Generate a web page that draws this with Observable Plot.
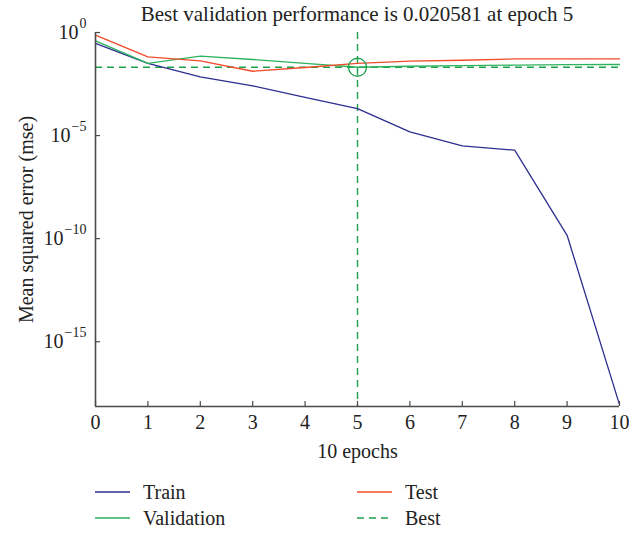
<!DOCTYPE html>
<html><head><meta charset="utf-8">
<script src="https://cdn.jsdelivr.net/npm/d3@7"></script>
<script src="https://cdn.jsdelivr.net/npm/@observablehq/plot@0.6"></script>
<style>
body{margin:0;background:#fff;font-family:"Liberation Serif","Times New Roman","DejaVu Serif",serif;color:#222;}
#title{position:relative;z-index:2;height:26px;line-height:28px;font-size:21px;text-align:center;margin-left:95px;width:524px;white-space:nowrap;}
#chart{position:relative;z-index:1;}
#chart svg{display:block;margin-top:-16px;background:transparent;overflow:visible;}
#legend{position:relative;height:67px;padding-top:13px;font-size:20px;}
.item{position:absolute;height:26px;line-height:26px;display:flex;align-items:center;}
.item svg{margin-right:13px;}
</style></head><body>
<div id="title">Best validation performance is 0.020581 at epoch 5</div>
<div id="chart"></div>
<div id="legend"></div>
<script>
const epochs = [0, 1, 2, 3, 4, 5, 6, 7, 8, 9, 10];
const train      = [2.95e-1, 3.16e-2, 7.1e-3, 2.6e-3, 7.2e-4, 2.04e-4, 1.5e-5, 3.2e-6, 1.95e-6, 1.45e-10, 8.9e-19];
const validation = [3.9e-1, 3.16e-2, 7.1e-2, 4.9e-2, 3.2e-2, 2.0581e-2, 2.3e-2, 2.45e-2, 2.6e-2, 2.75e-2, 2.8e-2];
const test       = [7.4e-1, 6.6e-2, 4.2e-2, 1.32e-2, 2.0e-2, 3.16e-2, 4.1e-2, 4.5e-2, 5.2e-2, 5.25e-2, 5.25e-2];
const bestValue = 0.020581;
const bestEpoch = 5;
const yTicks = [1, 1e-5, 1e-10, 1e-15];
const yTickExponents = ["0", "\u22125", "\u221210", "\u221215"];
const yDomain = [7.2e-19, 1];
const xLabel = "10 epochs";
const yLabel = "Mean squared error (mse)";
const seriesNames = ["Train", "Validation", "Test"];

const FONT = "'Liberation Serif', 'Times New Roman', 'DejaVu Serif', serif";
const colors = {Train: "#2e2e8f", Validation: "#2db35d", Test: "#f24b2a", Best: "#1f9e4c"};
const axisColor = "#4a4a4a";

const table = [];
[train, validation, test].forEach((arr, k) => arr.forEach((v, i) => table.push({series: seriesNames[k], epoch: epochs[i], value: v})));

const ctx = document.createElement("canvas").getContext("2d");
ctx.font = `14px ${FONT}`;
const expMarks = [];
yTicks.forEach((t, i) => {
  const w = ctx.measureText(yTickExponents[i]).width;
  expMarks.push(Plot.text([t], {y: d => d, frameAnchor: "left", text: () => "10", textAnchor: "end", dx: -(9 + w + 1), fill: "#222"}));
  expMarks.push(Plot.text([t], {y: d => d, frameAnchor: "left", text: () => yTickExponents[i], textAnchor: "end", dx: -9, dy: -9, fontSize: 14, fill: "#222"}));
});

const plot = Plot.plot({
  width: 629, height: 456,
  marginTop: 22, marginBottom: 60, marginLeft: 95, marginRight: 10,
  style: {fontSize: "20px", fontFamily: FONT, color: "#222", background: "transparent", overflow: "visible"},
  x: {domain: [0, 10]},
  y: {type: "log", domain: yDomain},
  marks: [
    Plot.ruleY([bestValue], {stroke: colors.Best, strokeWidth: 1.4, strokeDasharray: "7,5"}),
    Plot.ruleX([bestEpoch], {stroke: colors.Best, strokeWidth: 1.4, strokeDasharray: "7,5"}),
    Plot.line(table, {x: "epoch", y: "value", z: "series", stroke: d => colors[d.series], strokeWidth: 1.3}),
    Plot.dot([{epoch: bestEpoch, value: bestValue}], {x: "epoch", y: "value", r: 9, stroke: colors.Best, strokeWidth: 1.3, fill: "none"}),
    Plot.ruleX([0], {stroke: axisColor, strokeWidth: 1.6}),
    Plot.ruleY([yDomain[0]], {stroke: axisColor, strokeWidth: 1.6}),
    Plot.tickX(epochs, {x: d => d, insetTop: 369, stroke: axisColor, strokeWidth: 1.2}),
    Plot.tickY(yTicks, {y: d => d, insetRight: 519, stroke: axisColor, strokeWidth: 1.2}),
    Plot.axisX({ticks: epochs, tickSize: 0, tickPadding: 8, tickFormat: d => String(d), label: xLabel, labelAnchor: "center", labelOffset: 51, labelArrow: "none"}),
    Plot.axisY({ticks: yTicks, tickSize: 0, tickFormat: () => "", label: yLabel, labelAnchor: "center", labelOffset: 77, labelArrow: "none"}),
    ...expMarks
  ]
});
document.getElementById("chart").appendChild(plot);

const legendItems = [
  {name: "Train", left: 95, top: 13, dash: null},
  {name: "Test", left: 357, top: 13, dash: null},
  {name: "Validation", left: 95, top: 39, dash: null},
  {name: "Best", left: 357, top: 39, dash: "7,5"}
];
const legend = document.getElementById("legend");
legendItems.forEach(it => {
  const div = document.createElement("div");
  div.className = "item";
  div.style.left = it.left + "px";
  div.style.top = it.top + "px";
  div.innerHTML = `<svg width="35" height="4"><line x1="0" x2="35" y1="2" y2="2" stroke="${colors[it.name]}" stroke-width="1.6" ${it.dash ? `stroke-dasharray="${it.dash}"` : ""}/></svg><span>${it.name}</span>`;
  legend.appendChild(div);
});
</script>
</body></html>
